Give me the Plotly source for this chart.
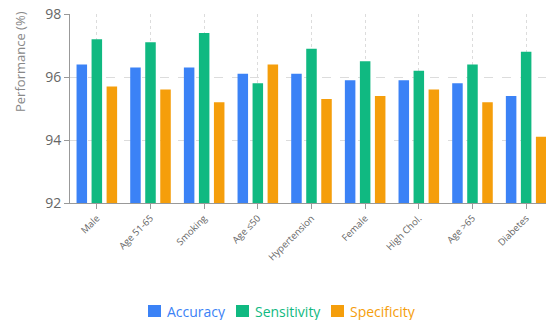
import plotly.graph_objects as go

# Subgroup performance data
categories = ["Male", "Age 51-65", "Smoking", "Age ≤50", "Hypertension",
              "Female", "High Chol.", "Age >65", "Diabetes"]
accuracy = [96.4, 96.3, 96.3, 96.1, 96.1, 95.9, 95.9, 95.8, 95.4]
sensitivity = [97.2, 97.1, 97.4, 95.8, 96.9, 96.5, 96.2, 96.4, 96.8]
specificity = [95.7, 95.6, 95.2, 96.4, 95.3, 95.4, 95.6, 95.2, 94.1]
y_ticks = [92, 94, 96, 98]

series_names = ["Accuracy", "Sensitivity", "Specificity"]
series_values = [accuracy, sensitivity, specificity]
series_colors = ["#3b82f6", "#10b981", "#f59e0b"]

FONT = "Open Sans, Segoe UI, sans-serif"
W, H = 546, 320
ML, MR, MT, MB = 70, 0, 14, 117
PW, PH = W - ML - MR, H - MT - MB


def px_to_paper(px, py):
    return (px - ML) / PW, (H - MB - py) / PH


fig = go.Figure()
for name, vals, color in zip(series_names, series_values, series_colors):
    fig.add_trace(go.Bar(
        x=list(range(len(categories))), y=vals, name=name,
        marker=dict(color=color, line=dict(width=0)),
        showlegend=False,
    ))

# Legend drawn as coloured squares with matching coloured labels
legend_x = [148, 236, 331]
legend_y = 311
shapes, annotations = [], []
for lx, name, color in zip(legend_x, series_names, series_colors):
    x0, y0 = px_to_paper(lx, legend_y - 6)
    x1, y1 = px_to_paper(lx + 13, legend_y + 6)
    shapes.append(dict(type="rect", xref="paper", yref="paper",
                       x0=x0, x1=x1, y0=y1, y1=y0,
                       fillcolor=color, line=dict(width=0)))
    tx, ty = px_to_paper(lx + 17, legend_y)
    annotations.append(dict(text=name, xref="paper", yref="paper",
                            x=tx, y=ty, xanchor="left", yanchor="middle",
                            showarrow=False,
                            font=dict(size=14, color=color, family=FONT)))

tx, ty = px_to_paper(20, 62)
annotations.append(dict(
    text="Performance (%)", textangle=-90,
    xref="paper", yref="paper", x=tx, y=ty,
    xanchor="center", yanchor="middle", showarrow=False,
    font=dict(size=13, color="#888", family=FONT),
))

fig.update_layout(
    width=W, height=H,
    margin=dict(l=ML, r=MR, t=MT, b=MB, autoexpand=False),
    paper_bgcolor="white", plot_bgcolor="white",
    barmode="group", bargap=0.16, bargroupgap=0.3,
    font=dict(family=FONT, color="#666"),
    showlegend=False,
    xaxis=dict(
        tickmode="array", tickvals=list(range(len(categories))),
        ticktext=categories, range=[-0.5, 8.37],
        tickangle=-45, tickfont=dict(size=9.5, color="#666"),
        showline=True, linecolor="#999", linewidth=1,
        ticks="outside", ticklen=5, tickcolor="#999",
        showgrid=True, gridcolor="#dcdcdc", griddash="dot", gridwidth=1,
        zeroline=False, fixedrange=True, automargin=False,
    ),
    yaxis=dict(
        range=[92, 98], tickvals=y_ticks,
        tickfont=dict(size=14, color="#666"),
        showline=True, linecolor="#999", linewidth=1,
        ticks="outside", ticklen=5, tickcolor="#999",
        showgrid=True, gridcolor="#dcdcdc", griddash="dash", gridwidth=1,
        zeroline=False, fixedrange=True, automargin=False,
    ),
    shapes=shapes,
    annotations=annotations,
)

fig.write_html("out.html")
